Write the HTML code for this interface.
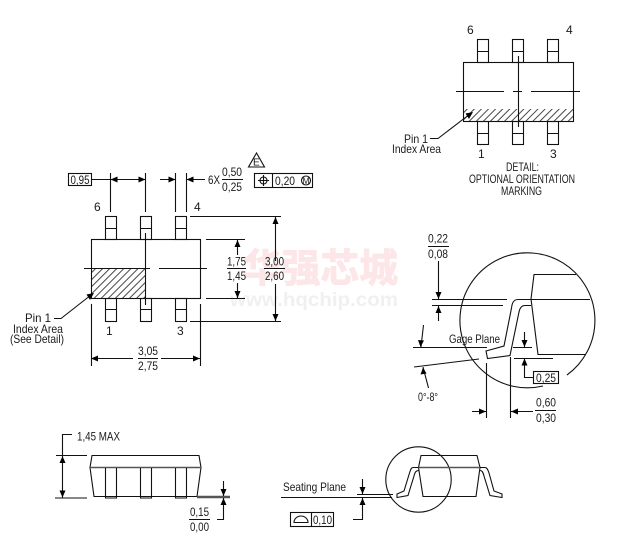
<!DOCTYPE html>
<html><head><meta charset="utf-8"><style>
html,body{margin:0;padding:0;background:#fff}
svg{display:block}
.l{fill:none;stroke:#111;stroke-width:1.100}
.g{fill:none;stroke:#555;stroke-width:1.600}
.a{fill:#000;stroke:none}
text{font-family:"Liberation Sans","DejaVu Sans",sans-serif;font-size:12px;fill:#1a1a1a}
.w{font-family:"Liberation Sans","Noto Sans CJK SC",sans-serif;font-weight:bold}
</style></head><body>
<svg width="627" height="554" viewBox="0 0 627 554" xmlns="http://www.w3.org/2000/svg">
<defs>
<pattern id="hp" width="5" height="5" patternUnits="userSpaceOnUse" patternTransform="rotate(45)">
<line x1="2.500" y1="0" x2="2.500" y2="5" stroke="#333" stroke-width="0.900"/>
</pattern>
</defs>

<!-- watermark -->
<text class="w" x="243" y="282" textLength="155" lengthAdjust="spacingAndGlyphs" style="font-size:39px;fill:#fce6e7;stroke:#fce6e7;stroke-width:1">华强芯城</text>
<text class="w" x="230" y="306" textLength="168" lengthAdjust="spacingAndGlyphs" style="font-size:19px;fill:#f1f0f0">www.hqchip.com</text>

<!-- ===== Main top view ===== -->
<rect class="l" x="105.500" y="216.500" width="11" height="23"/>
<rect class="l" x="140.500" y="216.500" width="11" height="23"/>
<rect class="l" x="175.500" y="216.500" width="11" height="23"/>
<rect class="l" x="105.500" y="298.500" width="11" height="23"/>
<rect class="l" x="140.500" y="298.500" width="11" height="23"/>
<rect class="l" x="175.500" y="298.500" width="11" height="23"/>
<path class="l" d="M105 228.500h11M140 228.500h11M175 228.500h11M105 309.500h11M140 309.500h11M175 309.500h11"/>
<rect x="91" y="269" width="54" height="29" fill="url(#hp)"/>
<rect class="l" x="91.500" y="239.500" width="109" height="59"/>
<path class="l" d="M84 268.500H150M159 268.500H207M145.500 233V305"/>

<!-- pitch dims -->
<rect class="l" x="68.500" y="173.500" width="23" height="12"/>
<text x="70.500" y="184" textLength="19" lengthAdjust="spacingAndGlyphs">0,95</text>
<path class="l" d="M91 179.500H145M110.500 173V212M145.500 173V212M175.500 173V212M186.500 173V212M160 179.500H175M186 179.500H205"/>
<polygon class="a" points="110.500,179.500 117.500,176.500 117.500,182.500"/>
<polygon class="a" points="145.500,179.500 138.500,176.500 138.500,182.500"/>
<polygon class="a" points="175.500,179.500 168.500,176.500 168.500,182.500"/>
<polygon class="a" points="186.500,179.500 193.500,176.500 193.500,182.500"/>
<text x="208" y="184" textLength="12" lengthAdjust="spacingAndGlyphs">6X</text>
<text x="222" y="176" textLength="20" lengthAdjust="spacingAndGlyphs">0,50</text>
<path class="l" d="M222 179.500H243"/>
<text x="222" y="191" textLength="20" lengthAdjust="spacingAndGlyphs">0,25</text>
<!-- E triangle -->
<path class="l" d="M256.500 153L248.500 167H264.500Z"/>
<text x="253" y="165.500" style="font-size:10px">E</text>
<!-- FCF -->
<rect x="254.500" y="173.500" width="58" height="14" class="l"/>
<path class="l" d="M272.500 173V187"/>
<circle class="l" cx="263.500" cy="180.500" r="3.500"/>
<path class="l" d="M263.500 175V186M258 180.500H269"/>
<text x="275" y="185" textLength="20" lengthAdjust="spacingAndGlyphs">0,20</text>
<circle class="l" cx="306" cy="180.500" r="4.500"/>
<text x="302.500" y="184" textLength="7" lengthAdjust="spacingAndGlyphs" style="font-size:9px">M</text>

<text x="94" y="211">6</text>
<text x="194" y="211">4</text>
<text x="106" y="335">1</text>
<text x="177" y="335">3</text>

<!-- right dims -->
<path class="l" d="M206 239.500H245M206 298.500H245M237.500 240V255M237.500 283V298M190 216.500H281M190 321.500H281M275.500 216V261M275.500 284V321"/>
<polygon class="a" points="237.500,240 234.500,247 240.500,247"/>
<polygon class="a" points="237.500,298 234.500,291 240.500,291"/>
<polygon class="a" points="275.500,217 272.500,224 278.500,224"/>
<polygon class="a" points="275.500,321 272.500,314 278.500,314"/>
<text x="227" y="265.500" textLength="19" lengthAdjust="spacingAndGlyphs">1,75</text>
<path class="l" d="M227 268.500H246M264 268.500H285"/>
<text x="227" y="280" textLength="19" lengthAdjust="spacingAndGlyphs">1,45</text>
<text x="265" y="265.500" textLength="19" lengthAdjust="spacingAndGlyphs">3,00</text>
<text x="265" y="280" textLength="19" lengthAdjust="spacingAndGlyphs">2,60</text>

<!-- bottom dim -->
<path class="l" d="M91.500 304V366M200.500 304V366M91 358.500H133M161 358.500H200M138 358.500H158"/>
<polygon class="a" points="91,358.500 98,355.500 98,361.500"/>
<polygon class="a" points="200,358.500 193,355.500 193,361.500"/>
<text x="138" y="355" textLength="20" lengthAdjust="spacingAndGlyphs">3,05</text>
<text x="138" y="370" textLength="20" lengthAdjust="spacingAndGlyphs">2,75</text>

<!-- Pin 1 label -->
<path class="l" d="M54 318.500H61L91 295"/>
<polygon class="a" points="94,293 86.500,294.500 90,300"/>
<text x="25" y="322" textLength="26" lengthAdjust="spacingAndGlyphs">Pin 1</text>
<text x="13" y="333" textLength="50" lengthAdjust="spacingAndGlyphs">Index Area</text>
<text x="10" y="343" textLength="54" lengthAdjust="spacingAndGlyphs">(See Detail)</text>

<!-- ===== Detail top right ===== -->
<rect class="l" x="477.500" y="39.500" width="11" height="23"/>
<rect class="l" x="512.500" y="39.500" width="11" height="23"/>
<rect class="l" x="547.500" y="39.500" width="11" height="23"/>
<rect class="l" x="477.500" y="121.500" width="11" height="23"/>
<rect class="l" x="512.500" y="121.500" width="11" height="23"/>
<rect class="l" x="547.500" y="121.500" width="11" height="23"/>
<path class="l" d="M477 51.500h11M512 51.500h11M547 51.500h11M477 133.500h11M512 133.500h11M547 133.500h11"/>
<rect x="463" y="109" width="110" height="12" fill="url(#hp)"/>
<rect class="l" x="463.500" y="62.500" width="110" height="59"/>
<path class="l" d="M456 91.500H504M513 91.500H522M531 91.500H580M518.500 56V127"/>
<text x="467" y="34">6</text>
<text x="566" y="34">4</text>
<text x="478" y="158">1</text>
<text x="550" y="158">3</text>
<path class="l" d="M430 138.500H438L470 114"/>
<polygon class="a" points="473,112 465.500,113.500 469,119"/>
<text x="404" y="143" textLength="24" lengthAdjust="spacingAndGlyphs">Pin 1</text>
<text x="392" y="153" textLength="49" lengthAdjust="spacingAndGlyphs">Index Area</text>
<text x="506" y="171" textLength="33" lengthAdjust="spacingAndGlyphs">DETAIL:</text>
<text x="469" y="183" textLength="106" lengthAdjust="spacingAndGlyphs">OPTIONAL ORIENTATION</text>
<text x="501" y="195" textLength="41" lengthAdjust="spacingAndGlyphs">MARKING</text>

<!-- ===== Gage detail ===== -->
<path class="l" d="M543 386A67.500 67.500 0 1 1 567 375"/>
<path class="l" d="M576 274.500H534L531 299L538 354.500H586M590 299.500H518C513 299.500 512 304 511.500 308L504 346L486 351L487.500 358.500L510 355.500L519 312C520 307 522 305.500 525 305.500H531"/>
<path class="l" d="M432 299.500H507M432 305.500H503M438.500 261V299M438.500 306V321"/>
<polygon class="a" points="438.500,299 435.500,292 441.500,292"/>
<polygon class="a" points="438.500,306 435.500,313 441.500,313"/>
<text x="428" y="242.500" textLength="20" lengthAdjust="spacingAndGlyphs">0,22</text>
<path class="l" d="M428 246.500H449"/>
<text x="428" y="258" textLength="20" lengthAdjust="spacingAndGlyphs">0,08</text>
<text x="449" y="343" textLength="51" lengthAdjust="spacingAndGlyphs">Gage Plane</text>
<path class="l" d="M413 347.500H487M513 347.500H532M414 367L479 359M514 358.500H553M423.500 325L421 347M423 367L428.500 388"/>
<polygon class="a" points="420.500,347 418,340 424,340.500"/>
<polygon class="a" points="423,367.500 420.500,374.500 426.500,373.500"/>
<text x="418" y="401" textLength="20" lengthAdjust="spacingAndGlyphs">0°-8°</text>
<path class="l" d="M486.500 363V418M510.500 357V418M472 411.500H486M511 411.500H533"/>
<polygon class="a" points="486,411.500 479,408.500 479,414.500"/>
<polygon class="a" points="511,411.500 518,408.500 518,414.500"/>
<text x="536" y="406.500" textLength="20" lengthAdjust="spacingAndGlyphs">0,60</text>
<path class="l" d="M535 410.500H556"/>
<text x="536" y="422" textLength="20" lengthAdjust="spacingAndGlyphs">0,30</text>
<rect class="l" x="533.500" y="371.500" width="25" height="12"/>
<text x="536" y="382" textLength="20" lengthAdjust="spacingAndGlyphs">0,25</text>
<path class="l" d="M524.500 332V347M524.500 359V377.500H533"/>
<polygon class="a" points="524.500,347 521.500,340 527.500,340"/>
<polygon class="a" points="524.500,358.500 521.500,365.500 527.500,365.500"/>

<!-- ===== Side view left ===== -->
<path class="l" d="M92 455.500H199L201 467.500L197 496.500H94L90 467.500Z"/>
<path class="g" d="M90 467.500H201"/>
<path class="l" d="M105.500 468V498H116.500V468M140.500 468V498H151.500V468M175.500 468V498H186.500V468"/>
<path class="l" d="M56 455.500H87M55 498H87M72 434.500H62.500V498"/>
<polygon class="a" points="62.500,456 59.500,463 65.500,463"/>
<polygon class="a" points="62.500,497.500 59.500,490.500 65.500,490.500"/>
<text x="77" y="440.500" textLength="43" lengthAdjust="spacingAndGlyphs">1,45 MAX</text>
<path d="M197 497H230" stroke="#555" stroke-width="2.500" fill="none"/>
<path class="l" d="M223.500 481V496M223.500 498V519.500H217"/>
<polygon class="a" points="223.500,496 220.500,489 226.500,489"/>
<polygon class="a" points="223.500,498 220.500,505 226.500,505"/>
<text x="190" y="516" textLength="19" lengthAdjust="spacingAndGlyphs">0,15</text>
<path class="l" d="M189 519.500H210"/>
<text x="190" y="531" textLength="19" lengthAdjust="spacingAndGlyphs">0,00</text>

<!-- ===== Side view right ===== -->
<circle class="l" cx="418.500" cy="479.500" r="32.700"/>
<path class="l" d="M421 455.500H477L480 467.500L476 496.500H423L418.500 467.500Z"/>
<path class="g" d="M418 467.500H481"/>
<path class="l" d="M418.500 467.500H413C411 467.500 410.500 470 409.500 473L404 491L397 494V497.500L408 495.500L414 476C415 472 416 470.500 419 470.500"/>
<path class="l" d="M480 467.500H485C487 467.500 488 470 489 473L494 491L502 494V497.500L490 495.500L484 476C483 472 482 470.500 480 470.500"/>
<path class="l" d="M281 497.500H392M357 494.500H393M362.500 479V494M362.500 498V519.500H353"/>
<polygon class="a" points="362.500,494 359.500,487 365.500,487"/>
<polygon class="a" points="362.500,498 359.500,505 365.500,505"/>
<text x="283" y="491" textLength="63" lengthAdjust="spacingAndGlyphs">Seating Plane</text>
<rect class="l" x="290.500" y="512.500" width="43" height="14"/>
<path class="l" d="M311.500 512V526M294 522.500H308A7 6.500 0 0 0 294 522.500Z"/>
<text x="313" y="524" textLength="19" lengthAdjust="spacingAndGlyphs">0,10</text>
</svg>
</body></html>
